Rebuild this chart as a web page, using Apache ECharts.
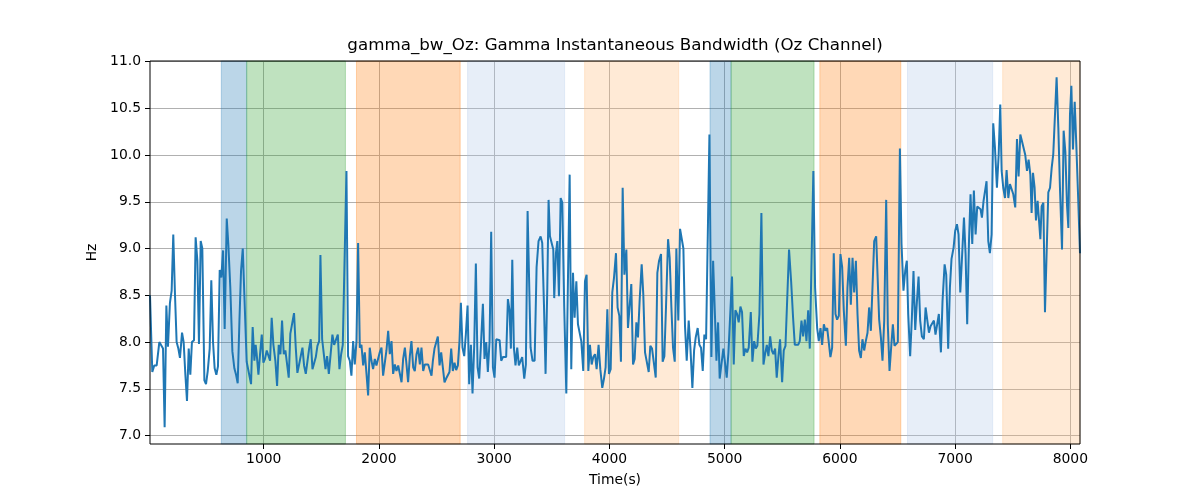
<!DOCTYPE html>
<html><head><meta charset="utf-8">
<script src="https://cdn.jsdelivr.net/npm/echarts@6/dist/echarts.min.js"></script>
<style>html,body{margin:0;padding:0;background:#fff}#c{width:1200px;height:500px}</style>
</head><body><div id="c"></div>
<script>
const titleText = 'gamma_bw_Oz: Gamma Instantaneous Bandwidth (Oz Channel)';
const xName = 'Time(s)';
const yName = 'Hz';
const xTicks = [1000, 2000, 3000, 4000, 5000, 6000, 7000, 8000];
const yTicks = [7.0, 7.5, 8.0, 8.5, 9.0, 9.5, 10.0, 10.5, 11.0];

// [time (s), bandwidth (Hz)]
const gammaBw = [
[13,8.5],[33,7.68],[50,7.75],[71,7.75],[94,8.0],[108,8.0],[126,7.93],[140,7.09],[155,8.39],[169,7.95],[186,8.42],[201,8.55],[215,9.15],[230,8.5],[244,8.0],[259,7.93],[273,7.83],[291,8.1],[305,8.0],[320,7.65],[334,7.37],[349,7.93],[363,7.65],[377,8.0],[395,8.02],[409,9.12],[424,8.87],[438,7.98],[453,9.08],[467,9.0],[485,7.59],[499,7.55],[514,7.69],[531,7.93],[545,8.66],[560,8.0],[574,7.72],[589,7.65],[603,7.74],[618,8.77],[632,8.69],[647,8.98],[661,8.14],[679,9.32],[693,9.04],[710,8.58],[728,7.9],[745,7.72],[760,7.65],[774,7.56],[789,8.22],[803,8.76],[818,9.0],
[852,7.79],[867,7.77],[890,7.55],[904,8.16],[919,7.8],[930,7.97],[939,7.87],[954,7.65],[968,7.87],[983,8.08],[997,7.78],[1011,7.82],[1026,7.91],[1040,7.9],[1055,7.8],[1069,8.26],[1084,7.97],[1101,7.8],[1116,7.53],[1130,7.97],[1145,7.87],[1159,8.23],[1174,7.87],[1188,7.91],[1203,7.93],[1217,7.62],[1231,8.09],[1246,8.1],[1263,8.31],[1278,7.94],[1292,7.67],[1307,7.76],[1321,7.85],[1336,7.94],[1350,7.75],[1365,7.66],[1379,7.64],[1394,7.93],[1408,8.03],[1423,7.71],[1437,7.73],[1452,7.84],[1466,7.96],[1481,8.01],[1492,8.93],[1507,8.03],[1521,8.03],[1536,7.71],[1550,7.85],[1565,7.66],[1579,7.66],[1596,8.08],[1611,7.97],
[1628,7.96],[1643,8.08],[1657,7.71],[1672,7.87],[1686,7.97],[1718,9.83],[1732,7.85],[1747,7.8],[1761,7.64],[1776,8.01],[1790,7.76],[1805,8.01],[1819,9.06],[1834,7.94],[1848,7.97],[1863,7.75],[1877,7.89],[1892,7.66],[1906,7.43],[1920,7.94],[1935,7.8],[1949,7.71],[1964,7.82],[1978,7.75],[1993,7.76],[2007,7.89],[2022,7.94],[2036,7.64],[2051,7.64],[2065,7.91],[2080,8.12],[2094,7.87],[2109,8.01],[2123,7.66],[2138,7.76],[2152,7.69],[2167,7.75],[2181,7.73],[2196,7.57],[2210,7.82],[2225,7.94],[2239,7.76],[2253,7.57],[2268,7.85],[2282,8.01],[2297,7.73],[2311,7.69],[2326,7.87],[2340,7.94],[2355,7.76],[2369,7.94],[2384,7.69],[2398,7.76],[2413,7.75],[2427,7.76],[2442,7.75],[2456,7.64],
[2468,7.8],[2482,7.93],[2497,7.94],[2511,8.06],[2526,7.75],[2540,7.89],[2555,7.89],[2569,7.57],[2583,7.61],[2598,7.62],[2612,7.68],[2627,7.93],[2641,7.69],[2656,7.78],[2670,7.7],[2685,7.75],[2699,8.01],[2711,8.42],[2725,7.94],[2740,7.85],[2754,8.08],[2769,8.39],[2783,7.55],[2798,7.97],[2812,7.45],[2827,7.97],[2841,8.84],[2856,7.73],[2870,7.61],[2884,7.94],[2902,8.41],[2916,7.82],[2931,8.0],[2945,7.68],[2960,8.01],[2974,9.18],[2989,7.73],[3003,7.62],[3018,8.03],[3032,8.03],[3047,8.02],[3061,7.8],[3076,7.84],[3090,7.85],[3104,7.84],[3119,8.46],[3133,8.34],[3145,7.93],[3157,8.88],[3171,7.94],[3185,7.75],[3200,7.94],[3214,7.75],[3229,7.73],[3243,7.84],[3261,7.61],[3275,7.76],[3290,9.4],[3301,9.42],
[3316,7.94],[3333,7.8],[3351,7.8],[3368,8.8],[3385,9.08],[3403,9.13],[3417,9.06],[3432,8.4],[3446,7.66],[3461,8.58],[3472,9.52],[3484,9.13],[3498,9.13],[3513,8.99],[3521,8.47],[3536,8.95],[3548,9.08],[3562,8.49],[3577,9.54],[3591,9.49],[3608,8.37],[3626,7.45],[3640,8.65],[3655,9.79],[3669,7.71],[3684,8.74],[3698,8.26],[3713,8.65],[3727,8.19],[3741,8.19],[3756,8.01],[3773,7.69],[3788,8.65],[3802,8.72],[3817,7.69],[3831,7.97],[3846,7.76],[3860,7.84],[3875,7.87],[3889,7.71],[3906,7.97],[3921,7.71],[3938,7.51],[3953,7.61],[3967,7.73],[3982,8.35],[3996,7.66],[4011,7.71],[4025,8.53],[4040,8.69],[4057,8.95],[4071,8.37],[4086,8.28],[4100,7.79],[4115,9.65],[4130,8.72],
[4147,8.99],[4161,8.15],[4176,8.17],[4190,8.62],[4205,7.76],[4219,7.82],[4234,8.21],[4248,8.05],[4263,8.46],[4280,8.83],[4294,8.51],[4309,7.89],[4323,7.89],[4341,7.68],[4355,7.96],[4370,7.93],[4384,7.91],[4402,7.62],[4416,8.74],[4431,8.87],[4448,8.94],[4462,7.79],[4477,7.85],[4491,8.37],[4509,9.1],[4523,8.9],[4538,8.37],[4552,7.94],[4567,7.79],[4581,9.0],[4598,8.23],[4613,9.21],[4627,9.21],[4642,9.0],[4656,8.17],[4671,7.8],[4688,8.23],[4703,7.94],[4720,7.51],[4735,7.91],[4749,8.05],[4766,8.15],[4781,7.97],[4795,7.94],[4810,7.69],[4824,8.08],[4839,8.03],[4853,8.03],[4868,10.22],[4885,7.84],[4900,8.87],[4914,8.87],[4929,7.8],[4943,8.21],[4957,7.61],
[4972,7.76],[4989,7.93],[5004,7.91],[5018,7.62],[5033,7.89],[5047,7.89],[5064,8.7],[5079,7.76],[5093,8.34],[5108,8.3],[5122,8.21],[5137,8.38],[5151,8.32],[5166,7.85],[5180,7.93],[5195,7.89],[5209,7.94],[5227,8.32],[5241,7.79],[5256,8.01],[5270,7.93],[5284,7.96],[5302,8.3],[5319,9.38],[5337,7.76],[5351,7.87],[5366,7.97],[5380,7.85],[5395,8.06],[5409,7.91],[5423,7.87],[5438,7.93],[5452,7.62],[5467,7.85],[5481,8.03],[5499,7.57],[5513,7.91],[5528,7.96],[5542,7.97],[5559,8.99],[5577,8.65],[5594,8.26],[5609,7.97],[5623,7.99],[5638,7.97],[5652,8.01],[5667,8.23],[5681,8.06],[5696,8.24],[5710,8.01],[5725,8.34],[5739,7.93],[5753,7.91],[5770,9.83],
[5785,8.58],[5803,8.15],[5817,8.01],[5832,8.15],[5846,7.97],[5861,8.19],[5875,8.12],[5890,8.15],[5904,8.13],[5918,7.84],[5933,7.94],[5947,8.95],[5962,8.3],[5976,8.24],[5991,8.28],[6005,8.94],[6020,8.8],[6034,8.34],[6052,7.96],[6066,8.58],[6081,8.9],[6095,8.4],[6110,8.9],[6124,8.53],[6139,8.87],[6153,8.3],[6167,7.91],[6182,7.83],[6196,8.03],[6211,7.91],[6225,8.01],[6240,8.1],[6254,8.37],[6269,8.12],[6283,8.58],[6298,9.08],[6315,9.13],[6330,9.15],[6341,8.24],[6356,8.05],[6370,7.8],[6385,8.23],[6402,9.52],[6416,8.19],[6431,7.69],[6445,7.94],[6460,8.19],[6474,7.96],[6489,7.95],[6503,8.0],[6521,10.07],[6535,9.05],[6552,8.55],[6567,8.76],[6581,8.87],
[6593,8.3],[6610,7.85],[6625,8.26],[6639,8.76],[6654,8.13],[6668,8.42],[6683,8.7],[6697,8.23],[6712,8.06],[6729,8.03],[6744,8.37],[6758,8.37],[6773,8.1],[6787,8.17],[6801,8.19],[6816,8.23],[6830,8.08],[6845,8.08],[6859,8.3],[6877,7.89],[6891,8.44],[6909,8.83],[6923,8.72],[6940,7.93],[6955,8.58],[6969,8.89],[6987,9.01],[7001,9.19],[7016,9.26],[7030,9.15],[7045,8.53],[7059,8.53],[7077,9.33],[7091,8.94],[7105,8.19],[7120,9.05],[7134,9.58],[7149,9.05],[7163,9.62],[7178,9.15],[7192,9.45],[7207,9.43],[7221,9.42],[7233,9.33],[7247,9.51],[7262,9.49],[7273,9.72],[7288,9.08],[7302,8.95],[7317,9.15],[7331,10.34],[7346,10.08],[7363,9.65],[7378,10.0],[7392,10.54],
[7404,9.83],[7418,9.65],[7433,9.54],[7447,9.84],[7462,9.54],[7476,9.69],[7491,9.69],[7505,9.58],[7522,9.44],[7537,10.17],[7551,9.77],[7566,10.22],[7580,10.15],[7595,10.15],[7609,10.0],[7624,9.83],[7638,9.95],[7653,9.79],[7664,9.38],[7676,9.81],[7690,9.65],[7702,9.3],[7716,9.51],[7731,9.49],[7740,9.1],[7751,9.45],[7766,9.49],[7780,8.32],[7795,8.34],[7809,9.6],[7824,9.65],[7838,9.86],[7852,10.01],[7867,10.03],[7881,10.83],[7896,10.29],[7910,9.65],[7928,8.99],[7942,10.26],[7957,10.03],[7971,9.47],[7983,9.22],[7997,10.43],[8009,10.74],[8023,10.06],[8038,10.57],[8052,10.11],[8067,9.58],[8084,8.95]
];

// shaded intervals: [start, end, kind]
const bands = [
  [632, 852, 'A'], [852, 1709, 'B'], [1805, 2705, 'C'], [2769, 3611, 'D'], [3785, 4601, 'E'],
  [4873, 5056, 'A'], [5056, 5776, 'B'], [5826, 6529, 'C'], [6587, 7326, 'D'], [7413, 8084, 'E']
];
const bandFill = {
  A: 'rgba(31,119,180,0.3)',
  B: 'rgba(44,160,44,0.3)',
  C: 'rgba(255,127,14,0.3)',
  D: 'rgba(174,199,232,0.3)',
  E: 'rgba(255,187,120,0.3)'
};

const FONT = 'DejaVu Sans';
const chart = echarts.init(document.getElementById('c'), null, {renderer: 'canvas'});
chart.setOption({
  animation: false,
  backgroundColor: '#fff',
  graphic: [{
    type: 'text', x: 615, y: 46, z: 10,
    style: {text: titleText, font: '16.7px "DejaVu Sans"', fill: '#000', textAlign: 'center', textVerticalAlign: 'middle'}
  }],
  grid: {left: 150, right: 120, top: 61, bottom: 56, show: true, borderColor: '#000', borderWidth: 1, backgroundColor: 'transparent', z: 3},
  xAxis: {
    type: 'value', min: gammaBw[0][0], max: gammaBw[gammaBw.length - 1][0], z: 1,
    name: xName, nameLocation: 'middle', nameGap: 29,
    nameTextStyle: {fontFamily: FONT, fontSize: 13.9, color: '#000'},
    axisLine: {show: false},
    axisTick: {show: true, length: 5, lineStyle: {color: '#000', width: 1}, customValues: xTicks},
    axisLabel: {fontFamily: FONT, fontSize: 13.9, color: '#000', margin: 8, customValues: xTicks, formatter: v => String(v)},
    splitLine: {show: true, lineStyle: {color: '#b0b0b0', width: 1}}
  },
  yAxis: {
    type: 'value', min: 6.91, max: 11.005, z: 1,
    name: yName, nameLocation: 'middle', nameGap: 46,
    nameTextStyle: {fontFamily: FONT, fontSize: 13.9, color: '#000'},
    axisLine: {show: false},
    axisTick: {show: true, length: 5, lineStyle: {color: '#000', width: 1}, customValues: yTicks},
    axisLabel: {fontFamily: FONT, fontSize: 13.9, color: '#000', margin: 9, customValues: yTicks, formatter: v => v.toFixed(1)},
    splitLine: {show: true, lineStyle: {color: '#b0b0b0', width: 1}}
  },
  series: [
    {
      type: 'line', data: [], z: 0, silent: true,
      markArea: {
        silent: true,
        data: bands.map(b => [
          {xAxis: b[0], itemStyle: {color: bandFill[b[2]], borderColor: bandFill[b[2]], borderWidth: 1}},
          {xAxis: b[1]}
        ])
      }
    },
    {
      type: 'line', data: gammaBw, z: 2, showSymbol: false, symbol: 'none',
      lineStyle: {color: '#1f77b4', width: 2}, itemStyle: {color: '#1f77b4'}
    }
  ]
});
</script></body></html>
